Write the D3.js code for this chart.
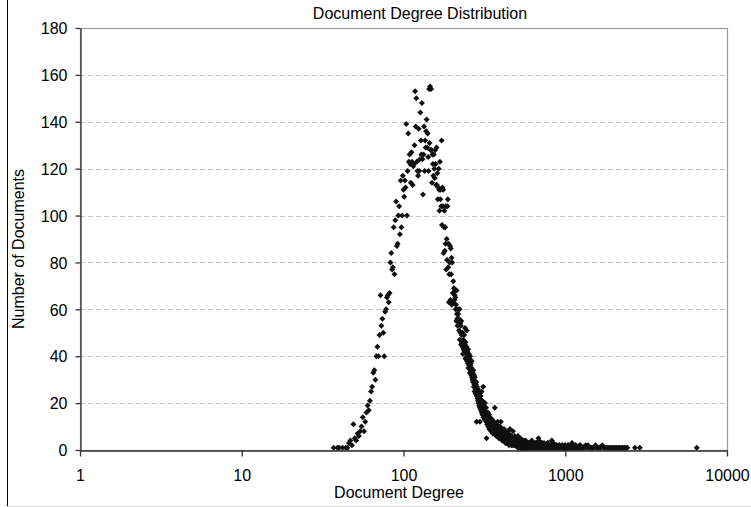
<!DOCTYPE html>
<html><head><meta charset="utf-8">
<script src="https://cdn.jsdelivr.net/npm/d3@7"></script>
<style>
body{margin:0;background:#fff}
svg{display:block}
text{font-family:"Liberation Sans",Arial,Helvetica,sans-serif;fill:#000}
</style>
</head><body><svg id="chart" width="751" height="507"></svg>
<script>
// ---- data ----
const chartTitle = "Document Degree Distribution";
const xTitle = "Document Degree";
const yTitle = "Number of Documents";
const xTickValues = [1, 10, 100, 1000, 10000];
const yTickValues = [0, 20, 40, 60, 80, 100, 120, 140, 160, 180];

// counts for consecutive degrees 37..230
const coreStartDegree = 37;
const coreCounts = [
  1,0,1,1,0,1,0,1,1,3,
  4,2,11,5,4,7,6,8,10,14,
  8,12,16,19,17,21,25,27,33,34,
  30,40,44,40,49,66,53,56,50,40,
  59,60,65,66,63,67,80,84,77,78,
  95,75,98,106,87,88,100,104,92,115,
  95,100,117,111,108,115,112,139,100,119,
  135,123,126,122,114,127,123,113,121,122,
  130,153,138,150,123,119,117,137,119,124,
  144,132,126,148,124,109,126,138,119,132,
  129,136,141,129,135,125,119,154,131,155,
  128,154,128,114,126,122,117,126,120,116,
  128,122,113,129,113,118,107,112,120,111,
  102,123,107,111,104,132,96,112,104,111,
  84,95,102,85,95,88,104,77,90,81,
  104,107,78,88,63,75,80,87,64,86,
  75,82,62,80,63,67,72,63,69,64,
  66,68,65,60,62,55,68,58,56,53,
  60,58,55,56,51,60,47,54,50,53,
  45,55,49,46
];

// counts for consecutive degrees 231..600
const slopeStartDegree = 231;
const slopeCounts = [
  44,50,41,47,43,46,49,42,45,52,
  39,46,43,41,44,51,38,42,40,37,
  43,35,38,41,36,39,33,40,36,34,
  37,32,35,38,31,34,30,33,29,34,
  30,27,32,28,25,31,29,26,24,28,
  25,29,12,23,27,24,22,26,21,24,
  20,23,25,19,22,18,12,21,19,23,
  17,20,18,25,16,19,21,15,18,17,
  27,14,19,16,18,15,13,17,20,14,
  16,13,15,18,12,5,16,14,11,15,
  13,12,16,10,14,11,13,15,9,12,
  11,14,10,12,9,13,11,8,12,10,
  9,11,13,8,10,12,7,9,11,10,
  8,12,9,7,10,8,18,9,11,7,
  10,8,9,6,11,7,9,8,10,6,
  8,12,7,9,6,8,10,7,5,8,
  7,9,6,8,10,5,7,6,8,12,
  6,8,5,7,9,6,4,7,8,5,
  7,6,8,5,6,4,7,9,5,6,
  5,7,4,6,8,5,3,6,5,7,
  4,6,5,7,3,5,6,4,8,5,
  6,4,5,3,7,5,4,6,2,5,
  4,6,3,5,9,4,5,3,6,4,
  5,3,4,6,2,5,4,3,5,4,
  3,5,4,2,8,4,3,5,4,3,
  4,2,5,3,4,3,6,2,4,3,
  5,3,2,4,3,5,2,4,3,2,
  4,3,2,5,3,2,4,3,1,6,
  3,2,4,1,3,5,2,3,4,2,
  3,1,4,2,3,2,5,1,3,2,
  2,4,1,3,2,3,1,4,2,3,
  1,3,2,4,2,1,3,2,1,3,
  2,3,1,2,4,1,2,3,1,2,
  3,1,2,2,1,3,2,1,4,2,
  1,2,3,1,2,1,3,2,1,2,
  2,1,3,1,2,2,1,3,1,2,
  1,2,1,3,1,2,1,2,1,3
];

// sparse long tail beyond 600
const tailDegrees = [605,612,618,625,631,638,644,650,657,663,670,676,683,690,697,704,711,719,727,735,
  743,751,760,769,778,787,796,806,816,826,836,847,858,869,880,892,904,916,928,941,
  954,967,980,994,1008,1022,1037,1052,1067,1083,1100,1117,1134,1152,1170,1189,1208,1228,1248,1269,
  1290,1312,1335,1358,1382,1406,1431,1457,1484,1511,1539,1568,1598,1629,1661,1694,1728,1763,1799,1836,
  1874,1913,1953,1994,2036,2080,2125,2171,2218,2267,2317,2369,2420,2700,2890,6500];
const tailCounts = [2,1,3,1,2,1,2,1,3,1,2,1,5,2,1,2,1,3,1,2,
  1,2,1,1,3,1,2,1,1,4,1,2,1,1,2,1,1,2,1,1,
  2,1,1,2,1,1,2,1,1,1,3,1,1,2,1,1,1,2,1,1,
  1,1,2,1,2,1,1,1,1,1,2,1,1,1,1,2,1,1,1,1,
  1,1,1,1,1,1,1,1,1,1,1,1,1,1,1,1];

// further degrees inside the tail band
const bandDegrees = [602,608,615,621,628,634,641,647,654,660,
  667,673,680,687,694,700,708,715,723,731,
  739,747,756,764,773,782,791,801,811,821,
  831,842,853,864,875,886,898,910,922,935,
  948,961,974,987,1001,1015,1030,1045,1060,1075,
  1091,1108,1125,1143,1161,1180,1199,1218,1238,1258];
const bandCounts = [3,2,1,4,2,3,1,2,3,2,
  1,3,2,4,1,2,3,1,2,2,
  3,1,2,1,2,3,1,2,1,2,
  1,3,1,2,1,2,1,1,2,1,
  1,2,1,1,2,1,1,2,1,1,
  2,1,1,1,2,1,1,1,2,1];

// ---- build point table ----
const points = [];
coreCounts.forEach((c, i) => points.push({degree: coreStartDegree + i, count: c}));
slopeCounts.forEach((c, i) => points.push({degree: slopeStartDegree + i, count: c}));
tailDegrees.forEach((d, i) => points.push({degree: d, count: tailCounts[i]}));
bandDegrees.forEach((d, i) => points.push({degree: d, count: bandCounts[i]}));
const shown = points.filter(p => p.count > 0);

// ---- layout ----
const svg = d3.select("#chart");
const plot = {left: 80, top: 28, right: 727, bottom: 450};
const x = d3.scaleLog().domain([1, 10000]).range([plot.left, plot.right]);
const y = d3.scaleLinear().domain([0, 180]).range([plot.bottom, plot.top]);
const fs = 16;

// outer chart frame (partially cropped)
svg.append("line").attr("x1", 7.5).attr("x2", 7.5).attr("y1", 0).attr("y2", 506)
  .attr("stroke", "#000").attr("stroke-width", 1);
svg.append("line").attr("x1", 7).attr("x2", 751).attr("y1", 506.5).attr("y2", 506.5)
  .attr("stroke", "#d9d9d9").attr("stroke-width", 1);

// gridlines
svg.append("g").selectAll("line")
  .data(yTickValues.filter(v => v > 0 && v < 180))
  .join("line")
  .attr("x1", plot.left).attr("x2", plot.right)
  .attr("y1", d => Math.round(y(d)) + 0.5).attr("y2", d => Math.round(y(d)) + 0.5)
  .attr("stroke", "#c6c6c6").attr("stroke-dasharray", "5,3");

// plot border (top & right)
svg.append("rect")
  .attr("x", plot.left + 0.5).attr("y", plot.top + 0.5)
  .attr("width", plot.right - plot.left).attr("height", plot.bottom - plot.top)
  .attr("fill", "none").attr("stroke", "#9a9a9a").attr("stroke-width", 1.2);

// points
const marker = d3.symbol().type(d3.symbolSquare).size(18);
svg.append("g").selectAll("path")
  .data(shown)
  .join("path")
  .attr("d", marker)
  .attr("transform", d => `translate(${x(d.degree)},${y(d.count)}) rotate(45)`)
  .attr("fill", "#111");

// axes
const yAxis = d3.axisLeft(y).tickValues(yTickValues).tickSize(5).tickSizeOuter(0).tickPadding(8);
const gy = svg.append("g").attr("transform", `translate(${plot.left + 0.5},0)`).call(yAxis);
gy.selectAll("text").attr("font-size", fs).attr("dy", "0.36em");

const xAxis = d3.axisBottom(x).tickValues(xTickValues).tickFormat(d3.format("d"))
  .tickSize(6).tickSizeOuter(0).tickPadding(13);
const gx = svg.append("g").attr("transform", `translate(0,${plot.bottom + 0.5})`).call(xAxis);
gx.selectAll("text").attr("font-size", fs);

svg.selectAll(".domain, .tick line").attr("stroke", "#333").attr("stroke-width", 1.3);
svg.selectAll(".tick text").attr("fill", "#000").attr("font-family", "'Liberation Sans',Arial,sans-serif");

// titles
svg.append("text").attr("x", 420).attr("y", 19).attr("text-anchor", "middle")
  .attr("font-size", fs).text(chartTitle);
svg.append("text").attr("x", 399).attr("y", 498).attr("text-anchor", "middle")
  .attr("font-size", fs).text(xTitle);
svg.append("text").attr("transform", "translate(24,249) rotate(-90)").attr("text-anchor", "middle")
  .attr("font-size", fs).text(yTitle);
</script>
</body></html>
